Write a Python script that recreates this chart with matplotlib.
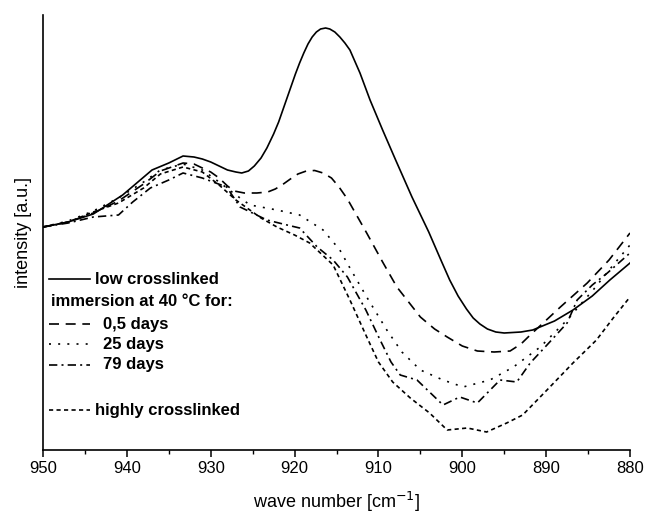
import matplotlib
matplotlib.use("Agg")
import matplotlib.pyplot as plt
from matplotlib.ticker import MultipleLocator

plt.rcParams['font.family'] = ['Liberation Sans', 'DejaVu Sans']

# FTIR spectra, intensity in arbitrary units
wn_low = [950, 947, 944, 940.5, 937, 935, 933.3, 932, 931, 930, 929, 928, 927, 926.3,
          925.5, 924.8, 924, 923.3, 922.5, 921.9, 921.4, 920.9, 920.4, 919.9, 919.4,
          918.9, 918.4, 917.9, 917.4, 916.9, 916.3, 915.8, 915.2, 914.6, 914, 913.4,
          912.2, 911, 909.5, 908, 906, 904, 902.5, 901.5, 900.5, 899.5, 898.7, 897.9,
          897, 896, 895, 894, 893, 891.6, 889, 886.8, 884.5, 882.4, 880]
int_low = [2.23, 2.28, 2.36, 2.55, 2.80, 2.87, 2.94, 2.93, 2.91, 2.88, 2.84, 2.80, 2.78, 2.77,
           2.79, 2.84, 2.92, 3.02, 3.16, 3.28, 3.40, 3.52, 3.64, 3.76, 3.87,
           3.97, 4.06, 4.13, 4.18, 4.21, 4.22, 4.21, 4.18, 4.13, 4.07, 4.00,
           3.77, 3.50, 3.20, 2.91, 2.53, 2.18, 1.89, 1.70, 1.54, 1.41, 1.32, 1.26,
           1.21, 1.18, 1.17, 1.175, 1.18, 1.20, 1.29, 1.40, 1.54, 1.70, 1.87]

wn_05d = [950, 947, 944, 941, 938, 936, 933.3, 932, 931, 930, 929, 928, 927.2, 926, 924.5,
          923.2, 922.3, 921.5, 920.5, 919.6, 918.6, 917.6, 916.6, 915.6, 914.7, 913.7,
          911.4, 909.5, 907.8, 905, 903.3, 901.8, 900, 898.2, 896.2, 894.3, 893, 891.9,
          888.3, 885.1, 882.5, 880]
int_05d = [2.23, 2.28, 2.37, 2.49, 2.66, 2.79, 2.87, 2.86, 2.82, 2.78, 2.72, 2.64, 2.59, 2.57, 2.57,
           2.58, 2.61, 2.65, 2.71, 2.76, 2.79, 2.795, 2.77, 2.72, 2.63, 2.51,
           2.17, 1.88, 1.63, 1.33, 1.21, 1.13, 1.04, 0.99, 0.98, 0.99, 1.06, 1.15,
           1.43, 1.67, 1.90, 2.17]

wn_25d = [950, 947, 944, 941, 938, 936, 933.3, 931, 929, 927, 925.3, 922.1, 919.4, 916.6,
          914.6, 913.4, 911.4, 909, 907.2, 905, 902.3, 899.9, 896.7, 893.9, 890.7,
          887.5, 884.4, 882, 880]
int_25d = [2.23, 2.29, 2.39, 2.52, 2.68, 2.80, 2.86, 2.80, 2.68, 2.55, 2.45, 2.40, 2.35, 2.20,
           2.00, 1.82, 1.53, 1.20, 0.98, 0.80, 0.70, 0.63, 0.70, 0.83, 1.03,
           1.30, 1.60, 1.85, 2.05]

wn_79d = [950, 947, 944, 941, 939.3, 937.2, 935, 933.3, 931, 928.1, 926.5, 923.3, 920.9,
          919.4, 917.3, 915.4, 913.7, 911.5, 909.8, 908.5, 907.4, 905.4, 902.3, 900.3,
          898.2, 895.5, 893.5, 891.9, 889.9, 887.5, 886.3, 884.5, 882.7, 880]
int_79d = [2.23, 2.27, 2.33, 2.35, 2.48, 2.62, 2.70, 2.77, 2.72, 2.63, 2.43, 2.30, 2.25,
           2.22, 2.03, 1.90, 1.73, 1.40, 1.10, 0.88, 0.75, 0.70, 0.45, 0.53,
           0.47, 0.70, 0.68, 0.87, 1.05, 1.27, 1.50, 1.65, 1.77, 1.97]

wn_high = [950, 947, 944, 941, 938, 936, 933.3, 931, 929, 927, 924, 922.1, 920, 918.2,
           915.4, 913.4, 911.5, 910, 908.3, 906.2, 903.9, 901.8, 899.4, 897.1, 894.7,
           892.8, 889.9, 886.8, 884, 882, 880]
int_high = [2.23, 2.28, 2.38, 2.47, 2.62, 2.76, 2.83, 2.78, 2.65, 2.50, 2.32, 2.23, 2.15, 2.07,
            1.85, 1.50, 1.15, 0.88, 0.68, 0.52, 0.37, 0.20, 0.22, 0.18, 0.27,
            0.35, 0.60, 0.87, 1.10, 1.32, 1.53]

x_ticks = [950, 940, 930, 920, 910, 900, 890, 880]

lw = 1.2
styles = {
    'low': dict(linestyle='-'),
    '05d': dict(linestyle=(0, (6, 4))),
    '25d': dict(linestyle=(0, (1.2, 4.3))),
    '79d': dict(linestyle=(0, (5, 2.5, 1.2, 2.5))),
    'high': dict(linestyle=(0, (2.5, 2))),
}

fig = plt.figure(figsize=(6.45, 5.18), dpi=100)
ax = fig.add_axes([43 / 645, 68 / 518, 587 / 645, 435 / 518])

ax.plot(wn_low, int_low, color='black', lw=lw, **styles['low'])
ax.plot(wn_05d, int_05d, color='black', lw=lw, **styles['05d'])
ax.plot(wn_25d, int_25d, color='black', lw=lw, **styles['25d'])
ax.plot(wn_79d, int_79d, color='black', lw=lw, **styles['79d'])
ax.plot(wn_high, int_high, color='black', lw=lw, **styles['high'])

ax.set_xlim(950, 880)
ax.set_ylim(0, 4.35)
ax.set_xticks(x_ticks)
ax.xaxis.set_minor_locator(MultipleLocator(5))
ax.set_yticks([])
ax.spines['top'].set_visible(False)
ax.spines['right'].set_visible(False)
for s in ('left', 'bottom'):
    ax.spines[s].set_linewidth(1.2)
ax.tick_params(axis='x', which='major', length=5, width=1.1, labelsize=12, pad=3)
ax.tick_params(axis='x', which='minor', length=3, width=1.0)

ax.set_xlabel('wave number [cm$^{-1}$]', fontsize=13, labelpad=10)
ax.set_ylabel('intensity [a.u.]', fontsize=13, labelpad=8)

# hand-built legend in axes fraction coordinates
def fx(px):
    return (px - 43) / 587

def fy(py):
    return (450 - py) / 435

legend_font = dict(fontsize=12, fontweight='bold', va='center', transform=ax.transAxes)
entries = [
    ('low', 279, 95, 'low crosslinked'),
    ('05d', 324, 103, '0,5 days'),
    ('25d', 344, 103, '25 days'),
    ('79d', 365, 103, '79 days'),
    ('high', 410, 95, 'highly crosslinked'),
]
for key, py, tx, label in entries:
    ax.plot([fx(49), fx(90)], [fy(py), fy(py)], color='black', lw=lw,
            transform=ax.transAxes, **styles[key])
    ax.text(fx(tx), fy(py), label, **legend_font)
ax.text(fx(51), fy(302), 'immersion at 40 \u00b0C for:', **legend_font)

fig.savefig('out.png', dpi=100)
